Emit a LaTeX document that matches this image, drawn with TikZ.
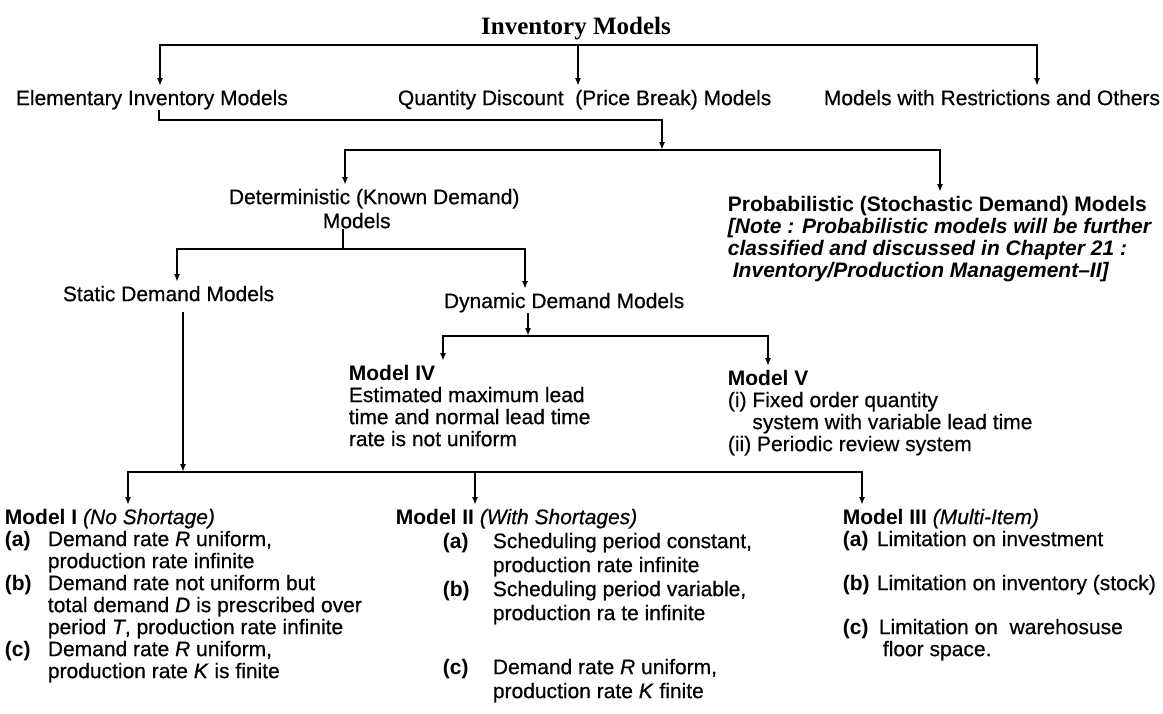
\documentclass[tikz,border=0pt]{standalone}
\usepackage{fontspec}
\setmainfont{Liberation Sans}[UprightFeatures={FakeBold=0.5},ItalicFeatures={FakeBold=0.5}]
\newfontfamily\titlefont{Liberation Serif}
\usetikzlibrary{arrows.meta}
\begin{document}
\begin{tikzpicture}[x=1pt,y=-1pt,line width=1.8pt,
  every node/.style={inner sep=0pt,anchor=north west,align=left,font=\fontsize{21}{22}\selectfont},
  arr/.style={-{Latex[length=8pt,width=6pt]},shorten >=3pt},
  bararr/.style={-{Latex[length=8pt,width=6pt]}}]
\newcommand{\lbl}[2]{\makebox[#1][l]{\textbf{#2}}}
\fill[white] (0,0) rectangle (1163,713);
\useasboundingbox (0,0) rectangle (1163,713);

% first level
\node[anchor=north,font=\titlefont\bfseries\fontsize{25}{28}\selectfont] (title) at (576,16) {Inventory Models};
\node (elem) at (15,89) {Elementary Inventory Models};
\node (qty) at (397,89) {Quantity Discount\ \ (Price Break) Models};
\node (restr) at (823,89) {Models with Restrictions and Others};

\coordinate (t1) at (160,45);
\coordinate (t2) at (578,45);
\coordinate (t3) at (1037,45);
\draw[arr] (t2) -| (t1 |- elem.north);
\draw[arr] (t2) -| (t3 |- restr.north);
\draw[arr] (t2) -- (t2 |- qty.north);

% deterministic / probabilistic
\node (det) at (228,188) {Deterministic (Known Demand)\\[2pt]\hspace*{94pt}Models};
\node[font=\bfseries\fontsize{21}{22}\selectfont] (prob) at (727,195) {Probabilistic (Stochastic Demand) Models\\
  \textit{[Note : Probabilistic models will be further}\\
  \textit{classified and discussed in Chapter 21 :}\\
  \textit{\hspace*{5pt}Inventory/Production Management--II]}};

\coordinate (e1) at (159,120);
\coordinate (b2) at (662,150);
\coordinate (b2l) at (345,150);
\coordinate (b2r) at (940,150);
\draw[bararr] (elem.south -| e1) -- (e1) -| (b2);
\draw[arr] (b2) -| (b2l |- det.north);
\draw[arr] (b2) -| (b2r |- prob.north);

% static / dynamic
\node (stat) at (62,285) {Static Demand Models};
\node (dyn) at (443,292) {Dynamic Demand Models};

\coordinate (d1) at (343,249);
\coordinate (b3l) at (177,249);
\coordinate (b3r) at (525,249);
\draw (det.south -| d1) -- (d1);
\draw[arr] (d1) -| (b3l |- stat.north);
\draw[arr] (d1) -| (b3r |- dyn.north);

% dynamic models
\node (m4) at (348,364) {\textbf{Model IV}\\Estimated maximum lead\\time and normal lead time\\rate is not uniform};
\node (m5) at (727,369) {\textbf{Model V}\\(i) Fixed order quantity\\\phantom{(i) }system with variable lead time\\(ii) Periodic review system};

\coordinate (y1) at (528,336);
\coordinate (b4l) at (443,336);
\coordinate (b4r) at (768,336);
\draw[bararr] (dyn.south -| y1) -- (y1);
\draw[arr] (y1) -| (b4l |- m4.north);
\draw[arr] (y1) -| (b4r |- m5.north);

% static models
\node (m1) at (4,508) {\textbf{Model I} \textit{(No Shortage)}\\
  \lbl{43pt}{(a)}Demand rate \textit{R} uniform,\\
  \hspace*{43pt}production rate infinite\\
  \lbl{43pt}{(b)}Demand rate not uniform but\\
  \hspace*{43pt}total demand \textit{D} is prescribed over\\
  \hspace*{43pt}period \textit{T}, production rate infinite\\
  \lbl{43pt}{(c)}Demand rate \textit{R} uniform,\\
  \hspace*{43pt}production rate \textit{K} is finite};
\node (m2) at (395,508) {\textbf{Model II} \textit{(With Shortages)}\\[2pt]
  \hspace*{47pt}\lbl{50pt}{(a)}Scheduling period constant,\\[2pt]
  \hspace*{97pt}production rate infinite\\[2pt]
  \hspace*{47pt}\lbl{50pt}{(b)}Scheduling period variable,\\[2pt]
  \hspace*{97pt}production ra te infinite\\[32pt]
  \hspace*{47pt}\lbl{50pt}{(c)}Demand rate \textit{R} uniform,\\[2pt]
  \hspace*{97pt}production rate \textit{K} finite};
\node (m3) at (842,508) {\textbf{Model III} \textit{(Multi-Item)}\\
  \lbl{34pt}{(a)}Limitation on investment\\[22pt]
  \lbl{34pt}{(b)}Limitation on inventory (stock)\\[22pt]
  \lbl{36pt}{(c)}Limitation on\ \ warehosuse\\
  \hspace*{40pt}floor space.};

\coordinate (s1) at (183,472);
\coordinate (b5l) at (128,472);
\coordinate (b5m) at (475,472);
\coordinate (b5r) at (862,472);
\draw[bararr,shorten <=10pt] (stat.south -| s1) -- (s1);
\draw[arr] (s1) -| (b5l |- m1.north);
\draw[arr] (s1) -| (b5r |- m3.north);
\draw[arr] (b5m) -- (b5m |- m2.north);
\end{tikzpicture}
\end{document}
